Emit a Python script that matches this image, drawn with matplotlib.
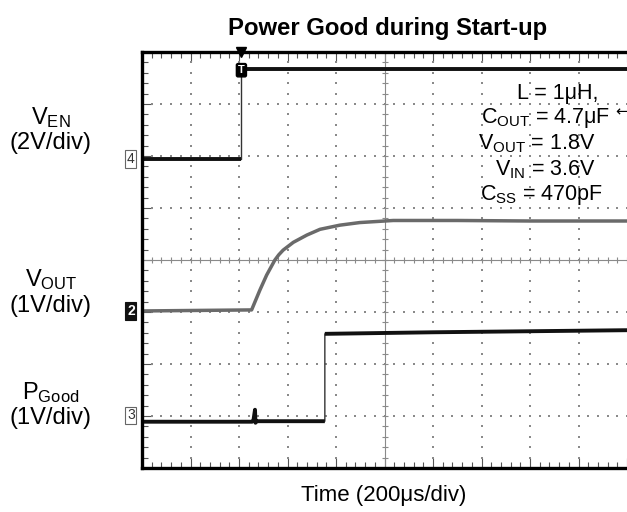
import numpy as np
import matplotlib.pyplot as plt

plt.rcParams['font.family'] = ['Liberation Sans', 'DejaVu Sans']
plt.rcParams['mathtext.fontset'] = 'custom'
plt.rcParams['mathtext.rm'] = 'Liberation Sans'
plt.rcParams['mathtext.it'] = 'Liberation Sans:italic'
plt.rcParams['mathtext.bf'] = 'Liberation Sans:bold'

# scope traces, in divisions (x: 0..10, y: 0..8 from the bottom)
en_t = [0.0, 2.05, 2.05, 10.0]
en_v = [5.94, 5.94, 7.67, 7.67]

vout_t = [0.0, 2.26, 2.43, 2.57, 2.74, 2.82, 2.91, 3.12, 3.40, 3.67, 4.08, 4.49, 5.18, 6.5, 8.0, 10.0]
vout_v = [3.02, 3.04, 3.42, 3.71, 4.00, 4.10, 4.19, 4.34, 4.48, 4.59, 4.67, 4.72, 4.76, 4.76, 4.75, 4.75]

pg_t = [0.0, 2.27, 2.30, 2.33, 2.34, 2.37, 3.77, 3.77, 6.0, 10.0]
pg_v = [0.89, 0.89, 0.93, 1.12, 0.87, 0.90, 0.90, 2.58, 2.61, 2.65]

notes = [r'L = 1μH,', r'$\mathrm{C_{OUT}}$ = 4.7μF', r'$\mathrm{V_{OUT}}$ = 1.8V',
         r'$\mathrm{V_{IN}}$ = 3.6V', r'$\mathrm{C_{SS}}$ = 470pF']

W, H = 627, 512
fig = plt.figure(figsize=(W / 100, H / 100), dpi=100)
ax = fig.add_axes([142 / W, 1 - 468 / H, 485 / W, 416 / H])
ax.set_xlim(0, 10)
ax.set_ylim(0, 8)

# graticule: dotted major lines, crosshair with sub-division ticks
grid_c = '#8a8a8a'
minor_x = np.arange(0, 10.01, 0.2)
minor_y = np.arange(0, 8.01, 0.2)
for gx in range(1, 10):
    if gx == 5:
        continue
    ax.plot(np.full_like(minor_y, gx), minor_y, ls='none', marker='s', ms=1.5, color=grid_c, mew=0)
for gy in range(1, 8):
    if gy == 4:
        continue
    ax.plot(minor_x, np.full_like(minor_x, gy), ls='none', marker='s', ms=1.5, color=grid_c, mew=0)
ax.axhline(4, color=grid_c, lw=0.8)
ax.axvline(5, color=grid_c, lw=0.8)
ax.plot(minor_x, np.full_like(minor_x, 4), ls='none', marker='|', ms=5, color=grid_c, mew=0.8)
ax.plot(np.full_like(minor_y, 5), minor_y, ls='none', marker='_', ms=5, color=grid_c, mew=0.8)

ax.set_xticks(range(0, 11))
ax.set_yticks(range(0, 9))
ax.set_xticks(minor_x, minor=True)
ax.set_yticks(minor_y, minor=True)
ax.tick_params(which='both', direction='in', top=True, bottom=True, left=True, right=False,
               labelbottom=False, labelleft=False, color='#555555')
ax.tick_params(which='major', length=7, width=0.8)
ax.tick_params(which='minor', length=4, width=0.8)
for s in ['left', 'top', 'bottom']:
    ax.spines[s].set_linewidth(2.4)
ax.spines['right'].set_visible(False)

# traces: thin edges, thick noisy-looking flat levels
ax.plot(en_t, en_v, color='#333333', lw=1.0)
ax.plot(en_t[:2], en_v[:2], color='#111111', lw=2.8, solid_capstyle='butt')
ax.plot(en_t[2:], en_v[2:], color='#111111', lw=2.8, solid_capstyle='butt')
ax.plot(vout_t, vout_v, color='#6a6a6a', lw=2.5, solid_joinstyle='round')
ax.plot(pg_t, pg_v, color='#333333', lw=1.0)
ax.plot(pg_t[:7], pg_v[:7], color='#111111', lw=2.8, solid_capstyle='butt')
ax.plot(pg_t[7:], pg_v[7:], color='#111111', lw=2.8, solid_capstyle='butt')

# channel ground markers
for lvl, lab, dark in [(en_v[0], '4', False), (vout_v[0], '2', True), (pg_v[0] + 0.12, '3', False)]:
    ax.text(-0.23, lvl, lab, ha='center', va='center', fontsize=10, clip_on=False,
            color='white' if dark else '#333333', fontweight='bold' if dark else 'normal',
            bbox=dict(boxstyle='square,pad=0.12', fc='#111111' if dark else 'white',
                      ec='#111111' if dark else '#666666', lw=0.8))

# trigger position and level markers
ax.plot(en_t[1], 8.0, marker='v', ms=7, color='black', clip_on=False)
ax.text(en_t[1], en_v[2] - 0.02, 'T', ha='center', va='center', fontsize=8, color='white',
        fontweight='bold', bbox=dict(boxstyle='round,pad=0.15', fc='black', ec='black'))
ax.text(9.88, 6.85, '←', ha='center', va='center', fontsize=11, color='black',
        family=['DejaVu Sans'])

# left channel labels
fs = 17
lx = 51 / W
fig.text(lx, 1 - 118 / H, r'$\mathrm{V_{EN}}$', ha='center', va='center', fontsize=fs)
fig.text(lx, 1 - 143 / H, '(2V/div)', ha='center', va='center', fontsize=fs)
fig.text(lx, 1 - 280 / H, r'$\mathrm{V_{OUT}}$', ha='center', va='center', fontsize=fs)
fig.text(lx, 1 - 306 / H, '(1V/div)', ha='center', va='center', fontsize=fs)
fig.text(lx, 1 - 393 / H, r'$\mathrm{P_{Good}}$', ha='center', va='center', fontsize=fs)
fig.text(lx, 1 - 418 / H, '(1V/div)', ha='center', va='center', fontsize=fs)

# test conditions
note_x = [558, 546, 537, 545, 541]
note_y = [93, 118, 144, 170, 195]
for nx, ny, s in zip(note_x, note_y, notes):
    fig.text(nx / W, 1 - ny / H, s, ha='center', va='center', fontsize=15.5)

fig.text(388 / W, 1 - 28 / H, 'Power Good during Start-up', ha='center', va='center',
         fontsize=17.2, fontweight='bold')
fig.text(384 / W, 1 - 495 / H, 'Time (200μs/div)', ha='center', va='center', fontsize=16)

fig.savefig('out.png', dpi=100)
